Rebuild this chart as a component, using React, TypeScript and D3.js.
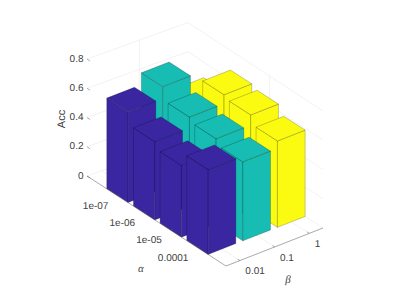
import React from 'react';
import * as d3 from 'd3';

const alphaLabels = ['1e-07', '1e-06', '1e-05', '0.0001'];
const betaLabels = ['0.01', '0.1', '1'];
const zTicks = [0, 0.2, 0.4, 0.6, 0.8];
const acc01 = [0.62, 0.535, 0.49, 0.58];
const acc1 = [0.70, 0.61, 0.58, 0.54];
const acc10 = [0.50, 0.67, 0.65, 0.59];
const series = [acc01, acc1, acc10];
const colors = ['#3b26a1', '#17bcb2', '#fbfb12'];

// oblique projection of the matlab axes box, each axis adds its own x,y shift
const ax = d3.scaleLinear().domain([-0.14, 5.07]).range([0, 139]);
const ay = d3.scaleLinear().domain([-0.14, 5.07]).range([0, 90]);
const bx = d3.scaleLinear().domain([0.6, 3.4]).range([0, 97]);
const by = d3.scaleLinear().domain([0.6, 3.4]).range([0, -38]);
const zy = d3.scaleLinear().domain([0, 0.8]).range([0, -117]);
const aMin = -0.14, aMax = 5.07, bMin = 0.6, bMax = 3.4, zMax = 0.8;

const P = (a: number, b: number, z: number): [number, number] => [
  87 + ax(a) + bx(b),
  176 + ay(a) + by(b) + zy(z),
];
// box grid only: the back corner sits a bit further out than a flat projection says
const W = (a: number, b: number, z: number): [number, number] => {
  const k = ((aMax - a) / (aMax - aMin)) * ((b - bMin) / (bMax - bMin));
  const [x, y] = P(a, b, z);
  return [x + 4 * k, y + 1.5 * k];
};
const line = d3.line();

const App = () => {
  const bars: React.ReactElement[] = [];
  alphaLabels.forEach((_, i) => {
    for (let j = betaLabels.length - 1; j >= 0; j--) {
      const a0 = i + 0.6, a1 = i + 1.4, b0 = j + 0.6, b1 = j + 1.4, h = series[j][i];
      const faces = [
        [P(a0, b0, 0), P(a1, b0, 0), P(a1, b0, h), P(a0, b0, h)],
        [P(a1, b0, 0), P(a1, b1, 0), P(a1, b1, h), P(a1, b0, h)],
        [P(a0, b0, h), P(a1, b0, h), P(a1, b1, h), P(a0, b1, h)],
      ];
      faces.forEach((f, k) => {
        bars.push(
          <path key={`${i}-${j}-${k}`} d={line(f as [number, number][]) + 'Z'} fill={colors[j]}
            stroke="#000" strokeOpacity={0.42} strokeWidth={0.5} />
        );
      });
    }
  });

  const grid = '#e4e4e4';
  const seg = (p: [number, number], q: [number, number], c: string, k: string) => (
    <path key={k} d={line([p, q]) as string} stroke={c} strokeWidth={0.5} fill="none" />
  );
  const axisColor = '#555';

  return (
    <svg width={399} height={299} style={{ position: 'absolute', left: 0, top: 0, background: '#fff' }}
      fontFamily="'Liberation Sans', Arial, sans-serif" fontSize={10} fill="#404040" textRendering="geometricPrecision">
      {/* back walls and floor grid */}
      {zTicks.map((z, i) => (
        <g key={i}>
          {seg(W(aMin, bMin, z), W(aMin, bMax, z), grid, 'l')}
          {seg(W(aMin, bMax, z), W(aMax, bMax, z), grid, 'r')}
        </g>
      ))}
      {[1, 2, 3].map(b => (
        <g key={b}>{seg(W(aMin, b, 0), W(aMax, b, 0), grid, 'f')}</g>
      ))}
      {[1, 2, 3, 4].map(a => (
        <g key={a}>{seg(W(a, bMin, 0), W(a, bMax, 0), grid, 'f')}</g>
      ))}
      {seg(W(aMin, 2.05, 0), W(aMin, 2.05, zMax), grid, 'vl')}
      {seg(W(3, bMax, 0), W(3, bMax, zMax), grid, 'vr')}
      {bars}
      {/* axis lines */}
      {seg(P(aMin, bMin, 0), P(aMax, bMin, 0), axisColor, 'aAxis')}
      {seg(P(aMax, bMin, 0), P(aMax, bMax, 0), axisColor, 'bAxis')}
      {zTicks.map((z, i) => {
        const [x, y] = P(aMin, bMin, z);
        return (
          <g key={i}>
            {seg([x, y], [x + 3, y + 2], axisColor, 't')}
            <text x={x - 3.5} y={y + 2.5} textAnchor="end">{z}</text>
          </g>
        );
      })}
      {alphaLabels.map((t, i) => {
        const [x, y] = P(i + 1, bMin, 0);
        return (
          <g key={t}>
            {seg([x, y], [x + 2.5, y - 1], axisColor, 't')}
            <text x={x - 9} y={y + 13} textAnchor="end">{t}</text>
          </g>
        );
      })}
      {betaLabels.map((t, i) => {
        const [x, y] = P(aMax, i + 1, 0);
        return (
          <g key={t}>
            {seg([x, y], [x - 2, y - 1.5], axisColor, 't')}
            <text x={x + 5.5} y={y + 13.5}>{t}</text>
          </g>
        );
      })}
      <text transform="translate(65,119) rotate(-90)" textAnchor="middle" fontSize={11}>Acc</text>
      <text x={141} y={272} textAnchor="middle" fontSize={11} fontStyle="italic" fontFamily="'Liberation Serif', serif">α</text>
      <text x={288} y={283} textAnchor="middle" fontSize={11} fontStyle="italic" fontFamily="'Liberation Serif', serif">β</text>
    </svg>
  );
};

export default App;
